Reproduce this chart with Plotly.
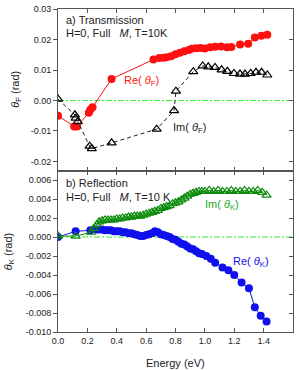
import plotly.graph_objects as go

# ---------------- data ----------------
# (a) Transmission: Re(theta_F)
reF_E = [0.0, 0.11, 0.13, 0.21, 0.22, 0.235, 0.365, 0.65, 0.69, 0.72, 0.74, 0.77, 0.80,
         0.83, 0.86, 0.89, 0.91, 0.94, 0.97, 1.00, 1.035, 1.07, 1.11, 1.15, 1.18, 1.24,
         1.295, 1.34, 1.385, 1.425]
reF = [-0.0050, -0.0085, -0.0085, -0.0040, -0.0030, -0.0022, 0.0071, 0.0135, 0.0140,
       0.0141, 0.0142, 0.0146, 0.0152, 0.0157, 0.0162, 0.0166, 0.0170, 0.0172, 0.0173,
       0.0171, 0.0175, 0.0177, 0.0178, 0.0175, 0.0176, 0.0184, 0.0187, 0.0207, 0.0213,
       0.0216]

# (a) Transmission: Im(theta_F)
imF_E = [0.0, 0.115, 0.12, 0.135, 0.215, 0.23, 0.365, 0.672, 0.79, 0.803, 0.921, 0.985,
         1.023, 1.069, 1.114, 1.153, 1.198, 1.239, 1.273, 1.312, 1.348, 1.386, 1.425]
imF = [0.0005, -0.0047, -0.0058, -0.0069, -0.0150, -0.0158, -0.0139, -0.0094, -0.0033,
       0.0031, 0.0095, 0.0114, 0.0111, 0.0109, 0.0101, 0.0096, 0.0089, 0.0087, 0.0087,
       0.0089, 0.0093, 0.0093, 0.0084]

# (b) Reflection: Re(theta_K)
reK_E = [0.0, 0.12, 0.22, 0.26, 0.28, 0.30, 0.32, 0.34, 0.36, 0.38, 0.40, 0.42, 0.44,
         0.46, 0.48, 0.50, 0.52, 0.54, 0.56, 0.58, 0.60, 0.62, 0.64, 0.66, 0.68, 0.70,
         0.72, 0.74, 0.76, 0.78, 0.80, 0.82, 0.84, 0.86, 0.88, 0.90, 0.92, 0.94, 0.96,
         0.98, 1.01, 1.04, 1.07, 1.12, 1.16, 1.20, 1.25, 1.30, 1.34, 1.38, 1.42]
reK = [0.0000, 0.0006, 0.0007, 0.0008, 0.0008, 0.0008, 0.0007, 0.0007, 0.0007, 0.0006,
       0.0006, 0.0006, 0.0005, 0.0005, 0.0004, 0.0004, 0.0003, 0.0002, 0.0001, 0.0001,
       0.0002, 0.0003, 0.0004, 0.0006, 0.0005, 0.0003, 0.0002, 0.0001, 0.0000, -0.0002,
       -0.0003, -0.0005, -0.0007, -0.0008, -0.0010, -0.0012, -0.0013, -0.0015, -0.0017,
       -0.0018, -0.0020, -0.0023, -0.0027, -0.0032, -0.0035, -0.0040, -0.0048, -0.0054,
       -0.0074, -0.0083, -0.0089]

# (b) Reflection: Im(theta_K)
imK_E = [0.0, 0.12, 0.225, 0.245, 0.265, 0.28, 0.30, 0.32, 0.34, 0.36, 0.38, 0.40, 0.42,
         0.44, 0.46, 0.48, 0.50, 0.52, 0.54, 0.56, 0.58, 0.60, 0.62, 0.64, 0.66, 0.68,
         0.70, 0.72, 0.74, 0.76, 0.78, 0.80, 0.82, 0.84, 0.86, 0.88, 0.90, 0.92, 0.94,
         0.96, 0.98, 1.00, 1.03, 1.06, 1.09, 1.12, 1.15, 1.18, 1.21, 1.24, 1.27, 1.30,
         1.33, 1.36, 1.39, 1.42]
imK = [0.0001, 0.0001, 0.0005, 0.0009, 0.0013, 0.0016, 0.0017, 0.0018, 0.0018, 0.0018,
       0.0018, 0.0019, 0.0019, 0.0020, 0.0020, 0.0021, 0.0021, 0.0022, 0.0022, 0.0022,
       0.0023, 0.0024, 0.0025, 0.0026, 0.0027, 0.0028, 0.0030, 0.0031, 0.0032, 0.0033,
       0.0035, 0.0036, 0.0037, 0.0039, 0.0041, 0.0043, 0.0045, 0.0046, 0.0047, 0.0048,
       0.0048, 0.0048, 0.0049, 0.0048, 0.0049, 0.0048, 0.0048, 0.0049, 0.0048, 0.0048,
       0.0049, 0.0048, 0.0048, 0.0049, 0.0047, 0.0044]

x_ticks = [0.0, 0.2, 0.4, 0.6, 0.8, 1.0, 1.2, 1.4, 1.6]
x_ticktext = ["0.0", "0.2", "0.4", "0.6", "0.8", "1.0", "1.2", "1.4", "1.6"]
yF_ticks = [-0.02, -0.01, 0.0, 0.01, 0.02, 0.03]
yF_ticktext = ["-0.02", "-0.01", "0.00", "0.01", "0.02", "0.03"]
yK_ticks = [-0.010, -0.008, -0.006, -0.004, -0.002, 0.0, 0.002, 0.004, 0.006]
yK_ticktext = ["-0.010", "-0.008", "-0.006", "-0.004", "-0.002", "0.000", "0.002",
               "0.004", "0.006"]

# ---------------- figure ----------------
FONT = "Liberation Sans, Arial, sans-serif"
AX = "#555555"
RED = "#ff1010"
BLUE = "#1010ee"
GREEN = "#0a8a0a"

fig = go.Figure()

fig.add_trace(go.Scatter(x=reF_E, y=reF, xaxis="x", yaxis="y", mode="lines+markers",
                         line=dict(color=RED, width=1),
                         marker=dict(symbol="circle", size=8, color=RED)))
fig.add_trace(go.Scatter(x=imF_E, y=imF, xaxis="x", yaxis="y", mode="lines+markers",
                         line=dict(color="#222222", width=1, dash="4px,3px"),
                         marker=dict(symbol="triangle-up-open", size=8, color="black",
                                     line=dict(width=1.2))))
fig.add_trace(go.Scatter(x=reK_E, y=reK, xaxis="x2", yaxis="y2", mode="lines+markers",
                         line=dict(color=BLUE, width=1),
                         marker=dict(symbol="circle", size=8, color=BLUE)))
fig.add_trace(go.Scatter(x=imK_E, y=imK, xaxis="x2", yaxis="y2", mode="lines+markers",
                         line=dict(color=GREEN, width=1),
                         marker=dict(symbol="triangle-up-open", size=8, color=GREEN,
                                     line=dict(width=1.2))))
# empty helpers to activate right-hand mirror axes
fig.add_trace(go.Scatter(x=[None], y=[None], xaxis="x", yaxis="y3", showlegend=False,
                         hoverinfo="skip"))
fig.add_trace(go.Scatter(x=[None], y=[None], xaxis="x2", yaxis="y4", showlegend=False,
                         hoverinfo="skip"))

common_x = dict(range=[0, 1.6], tickvals=x_ticks, ticktext=x_ticktext, ticks="inside",
                ticklen=4, tickcolor=AX, showline=True, linecolor=AX, linewidth=1,
                mirror="ticks", showgrid=False, zeroline=False,
                tickfont=dict(size=9, color="#222222"))
left_y = dict(ticks="outside", ticklen=4, tickcolor=AX, showline=True, linecolor=AX,
              linewidth=1, mirror=True, showgrid=False, zeroline=False,
              ticklabeloverflow="allow",
              tickfont=dict(size=9, color="#222222"))
right_y = dict(side="right", ticks="inside", ticklen=4, tickcolor=AX, showline=False,
               showticklabels=False, showgrid=False, zeroline=False)

F_RANGE = [-0.023, 0.0301]
K_RANGE = [-0.010, 0.007]

fig.update_layout(
    width=299, height=370,
    margin=dict(l=58, r=6, t=4, b=38),
    paper_bgcolor="white", plot_bgcolor="white",
    showlegend=False,
    font=dict(family=FONT, size=11, color="#222222"),
    xaxis=dict(domain=[0, 1], anchor="y", showticklabels=False, **common_x),
    xaxis2=dict(domain=[0, 1], anchor="y2", **common_x),
    yaxis=dict(domain=[0.5, 1], anchor="x", range=F_RANGE, tickvals=yF_ticks,
               ticktext=yF_ticktext, **left_y),
    yaxis2=dict(domain=[0, 0.5], anchor="x2", range=K_RANGE, tickvals=yK_ticks,
                ticktext=yK_ticktext, **left_y),
    yaxis3=dict(overlaying="y", anchor="x", range=F_RANGE, tickvals=yF_ticks,
                **right_y),
    yaxis4=dict(overlaying="y2", anchor="x2", range=K_RANGE, tickvals=yK_ticks,
                **right_y),
)

# zero lines (green dash-dot)
for yref in ["y", "y2"]:
    xref = "x domain" if yref == "y" else "x2 domain"
    fig.add_shape(type="line", xref=xref, x0=0, x1=1, yref=yref, y0=0, y1=0,
                  line=dict(color="#33ee33", width=1, dash="6px,2px,2px,2px"),
                  layer="below")

def ann(text, x, y, color="#222222", size=11, xanchor="left", angle=0):
    fig.add_annotation(text=text, x=x, y=y, xref="paper", yref="paper",
                       xanchor=xanchor, yanchor="middle", showarrow=False,
                       textangle=angle, font=dict(size=size, color=color, family=FONT))

ann("a) Transmission", 0.0255, 0.966)
ann("H=0, Full &nbsp;&nbsp;<i>M</i>, T=10K", 0.0255, 0.927)
ann("b) Reflection", 0.0255, 0.460)
ann("H=0, Full &nbsp;&nbsp;<i>M</i>, T=10 K", 0.0255, 0.418)
ann("Re( <i>θ</i><sub>F</sub>)", 0.272, 0.777, color=RED)
ann("Im( <i>θ</i><sub>F</sub>)", 0.481, 0.631)
ann("Im( <i>θ</i><sub>K</sub>)", 0.617, 0.393, color="#22aa22")
ann("Re( <i>θ</i><sub>K</sub>)", 0.736, 0.216, color=BLUE)
ann("Energy (eV)", 0.498, -0.0945, xanchor="center")
ann("<i>θ</i><sub>F</sub> (rad)", -0.179, 0.753, xanchor="center", angle=-90)
ann("<i>θ</i><sub>K</sub> (rad)", -0.209, 0.25, xanchor="center", angle=-90)

fig.write_html("out.html",
               config={"displayModeBar": False},
               post_script="document.body.style.margin='0';"
                           "document.body.style.overflow='hidden';")
